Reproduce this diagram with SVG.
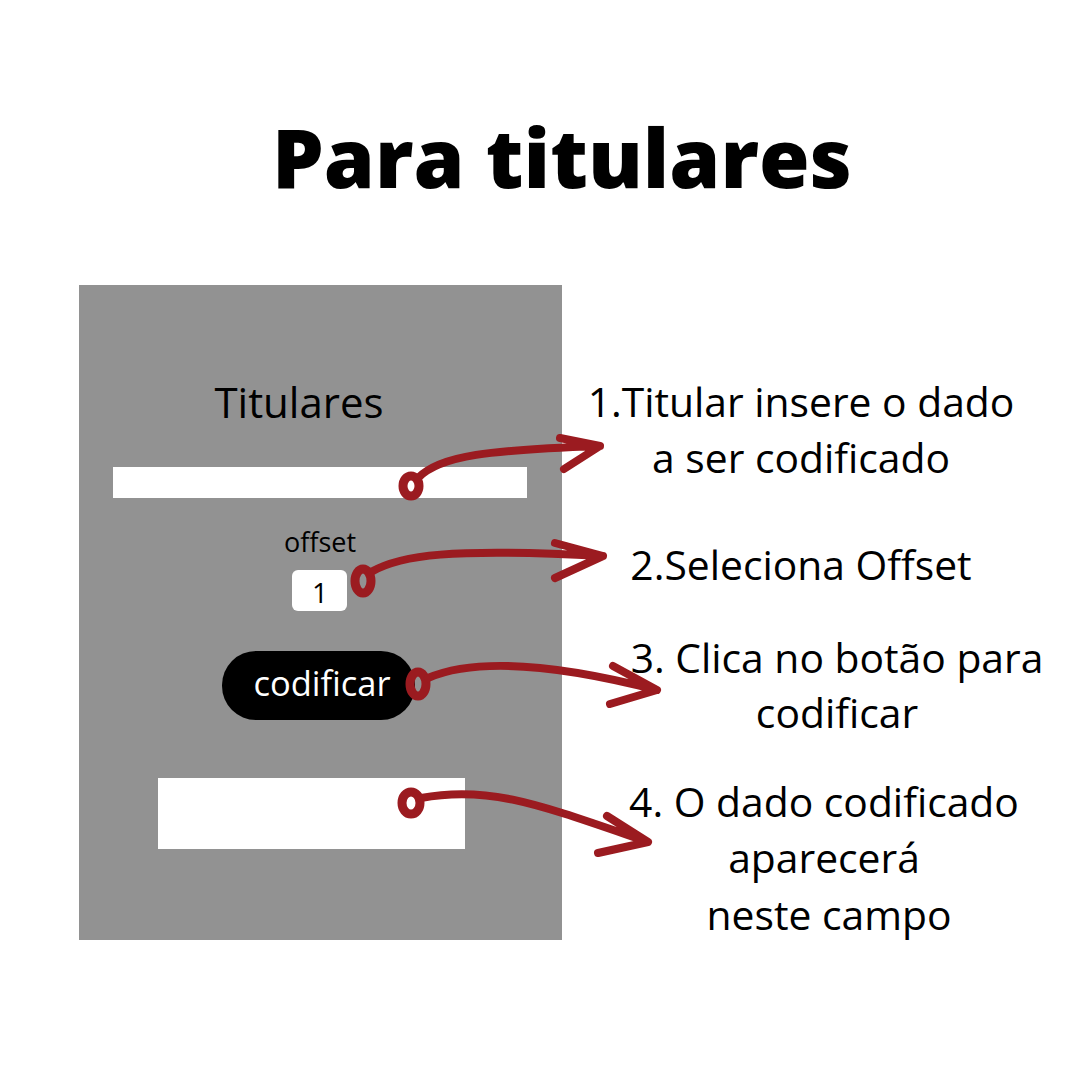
<svg xmlns="http://www.w3.org/2000/svg" width="1080" height="1080" viewBox="0 0 1080 1080">
<style>
.t{font-family:"Open Sans","Noto Sans","Liberation Sans",sans-serif;fill:#000}
.r{font-size:40.8px;text-anchor:middle}
.a{fill:none;stroke:#9b1b20;stroke-width:8;stroke-linecap:round;stroke-linejoin:round}
.lp{fill:none;stroke:#9b1b20;stroke-width:9}
</style>
<rect width="1080" height="1080" fill="#fff"/>
<text class="t" x="562" y="188" font-size="82" font-weight="800" text-anchor="middle">Para titulares</text>
<g id="panel">
<rect x="79" y="285" width="483" height="655" fill="#929292"/>
<text class="t" x="299" y="418" font-size="42" text-anchor="middle">Titulares</text>
</g>
<g id="input1"><rect x="113" y="467" width="414" height="31" fill="#fff"/></g>
<g id="offset">
<text class="t" x="320" y="552" font-size="27" text-anchor="middle">offset</text>
<rect x="292" y="570" width="55" height="41" rx="6" fill="#fff"/>
<text class="t" x="320" y="603" font-size="28" text-anchor="middle">1</text>
</g>
<g id="button">
<rect x="222" y="651" width="193" height="69" rx="34" fill="#000"/>
<text class="t" x="322" y="696" font-size="34.5" text-anchor="middle" style="fill:#fff">codificar</text>
</g>
<g id="output"><rect x="158" y="778" width="307" height="71" fill="#fff"/></g>
<g id="step1"><text class="t r" x="801" y="417">1.Titular insere o dado</text><text class="t r" x="801" y="473">a ser codificado</text></g>
<g id="step2"><text class="t r" x="801" y="580">2.Seleciona Offset</text></g>
<g id="step3"><text class="t r" x="837" y="673">3. Clica no botão para</text><text class="t r" x="837" y="728">codificar</text></g>
<g id="step4"><text class="t r" x="824" y="817">4. O dado codificado</text><text class="t r" x="824" y="873">aparecerá</text><text class="t r" x="829" y="930">neste campo</text></g>
<g id="connectors">
<ellipse class="lp" cx="411" cy="486" rx="8" ry="10"/>
<path class="a" d="M418 478 C440 455 490 450 600 446 M560 438 L600 446 L564 469"/>
<ellipse class="lp" cx="363" cy="581" rx="8" ry="12"/>
<path class="a" d="M371 572 C400 555 450 548 603 556 M555 543 L603 556 L555 578"/>
<ellipse class="lp" cx="418" cy="684" rx="8" ry="12"/>
<path class="a" d="M428 678 C470 660 540 660 657 690 M613 666 L657 690 L610 704"/>
<ellipse class="lp" cx="411" cy="803" rx="9" ry="11"/>
<path class="a" d="M421 798 C490 785 540 805 648 842 M607 816 L648 842 L598 853"/>
</g>
</svg>
